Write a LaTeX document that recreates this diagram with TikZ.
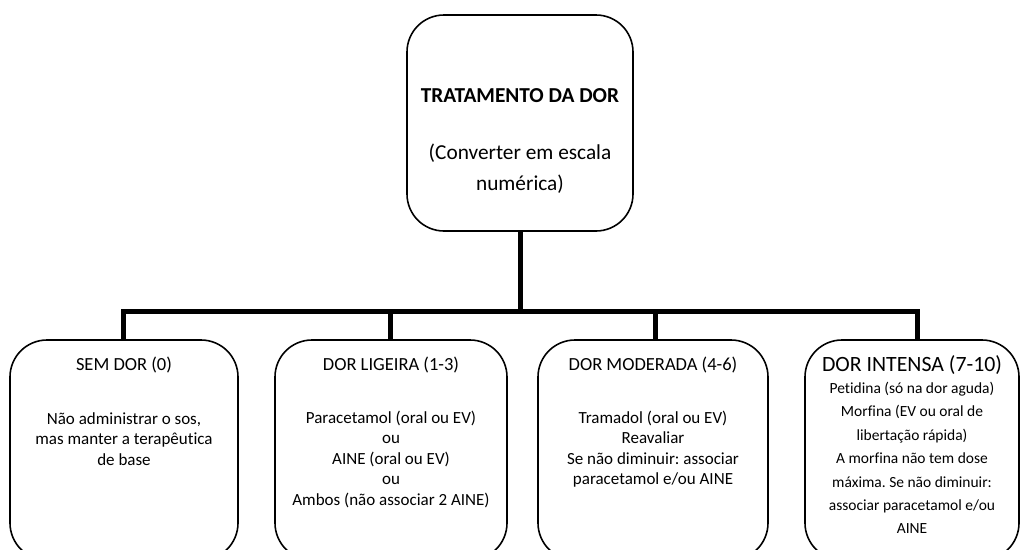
\documentclass[tikz,border=0pt]{standalone}
\usepackage{fontspec}
\setmainfont{Carlito}[Ligatures=NoCommon]
\frenchspacing
\begin{document}
\begin{tikzpicture}[x=1pt,y=-1pt,
  box/.style={draw,line width=1.6pt,rounded corners=37pt,minimum height=220pt,inner sep=0pt},
  conn/.style={line width=5pt,line join=miter},
  txt/.style={inner sep=0pt,align=center,text=black},
  boxtitle/.style={txt,font=\fontsize{18.5}{22}\selectfont},
  boxbody/.style={txt,font=\fontsize{17}{20.5}\selectfont}]
\useasboundingbox (0,0) rectangle (1020,549);
\clip (0,0) rectangle (1020,549);

% boxes
\node[box,minimum width=226pt,minimum height=216pt] (top) at (520,123) {};
\node[box,minimum width=228pt] (b1) at (124,450) {};
\node[box,minimum width=232pt] (b2) at (391,450) {};
\node[box,minimum width=230pt] (b3) at (653,450) {};
\node[box,minimum width=214pt] (b4) at (912,450) {};

% connector tree
\coordinate (bar) at (520,311);
\coordinate (b4top) at ([xshift=5pt]b4.north);
\draw[conn] (top.south) -- (top.south |- bar);
\draw[conn] ([xshift=-1pt]b1.north) |- (bar) -| (b4top);
\draw[conn] ([xshift=-1pt]b2.north) -- ([xshift=-1pt]b2.north |- bar);
\draw[conn] ([xshift=2pt]b3.north) -- ([xshift=2pt]b3.north |- bar);

% texts
\node[txt,font=\bfseries\fontsize{21.3}{25}\selectfont] (t0) at (520,96) {TRATAMENTO DA DOR};
\node[txt,font=\fontsize{21.3}{31}\selectfont] (t1) at (520,169) {(Converter em escala\\numérica)};

\node[boxtitle] (h1) at (124,365) {SEM DOR (0)};
\node[boxtitle] (h2) at (391,365) {DOR LIGEIRA (1-3)};
\node[boxtitle] (h3) at (653,365) {DOR MODERADA (4-6)};
\node[txt,font=\fontsize{21.8}{26}\selectfont] (h4) at (912,365) {DOR INTENSA (7-10)};

\node[boxbody] (d1) at (124,439) {Não administrar o sos,\\mas manter a terapêutica\\de base};
\node[boxbody] (d2) at (391,459) {Paracetamol (oral ou EV)\\ou\\AINE (oral ou EV)\\ou\\Ambos (não associar 2 AINE)};
\node[boxbody] (d3) at (653,449) {Tramadol (oral ou EV)\\Reavaliar\\Se não diminuir: associar\\paracetamol e/ou AINE};
\node[txt,font=\fontsize{15.5}{23.4}\selectfont] (d4) at (912,458) {Petidina (só na dor aguda)\\Morfina (EV ou oral de\\libertação rápida)\\A morfina não tem dose\\máxima. Se não diminuir:\\associar paracetamol e/ou\\AINE};
\end{tikzpicture}
\end{document}
